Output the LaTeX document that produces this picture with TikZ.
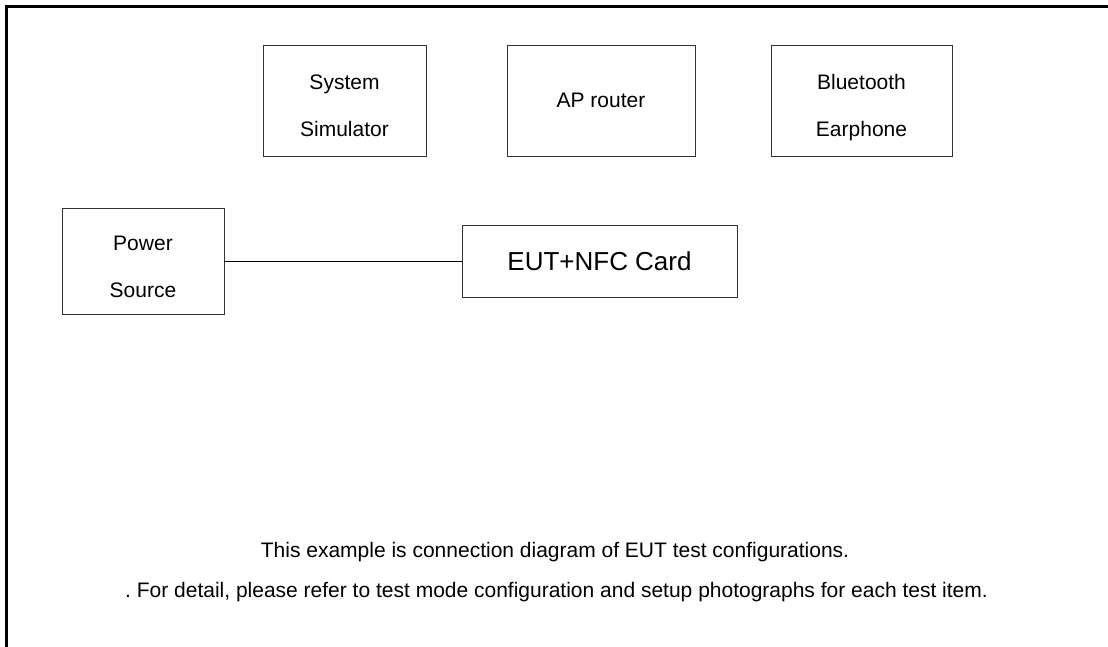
\documentclass[tikz,border=0pt]{standalone}
\usepackage{fontspec}
\setmainfont{Liberation Sans}
\usepackage{tikz}
\usetikzlibrary{positioning}
\frenchspacing
\newcommand{\boxlines}[2]{\rule{0pt}{31pt}#1\\#2\rule[-5pt]{0pt}{5pt}}

\begin{document}
\begin{tikzpicture}[x=1pt,y=-1pt,on grid,
      box/.style={draw=black!80, line width=0.9pt, align=center, inner sep=0pt,
        font=\fontsize{21}{47}\selectfont},
      note/.style={anchor=base, inner sep=0pt, font=\fontsize{21}{24}\selectfont}]

      \useasboundingbox (0,0) rectangle (1108,647);
      % frame, only top and left are visible
      \draw[line width=2.6pt] (6.5,647) -- (6.5,6.5) -- (1108,6.5);

      \node[box, minimum width=163pt, minimum height=111pt] (sim) at (344.5,100.5) {\boxlines{System}{Simulator}};
      \node[box, minimum width=188pt, minimum height=111pt] (ap) [right=256.5pt of sim] {AP router};
      \node[box, minimum width=181pt, minimum height=111pt] (bt) [right=260.5pt of ap] {\boxlines{Bluetooth}{Earphone}};

      \node[box, minimum width=162pt, minimum height=106pt] (pow) at (143,261) {\boxlines{Power}{Source}};
      \node[box, minimum width=275pt, minimum height=72pt, font=\fontsize{26}{30}\selectfont] (eut) [right=456.5pt of pow] {EUT+NFC Card};

      \node[note] (note1) at (555,557) {This example is connection diagram of EUT test configurations.};
      \node[note] (note2) at (556.5,597) {. For detail, please refer to test mode configuration and setup photographs for each test item.};

      \path[line width=0.9pt]
        (pow) edge [] node[] {} (eut)
        ;

\end{tikzpicture}
\end{document}
